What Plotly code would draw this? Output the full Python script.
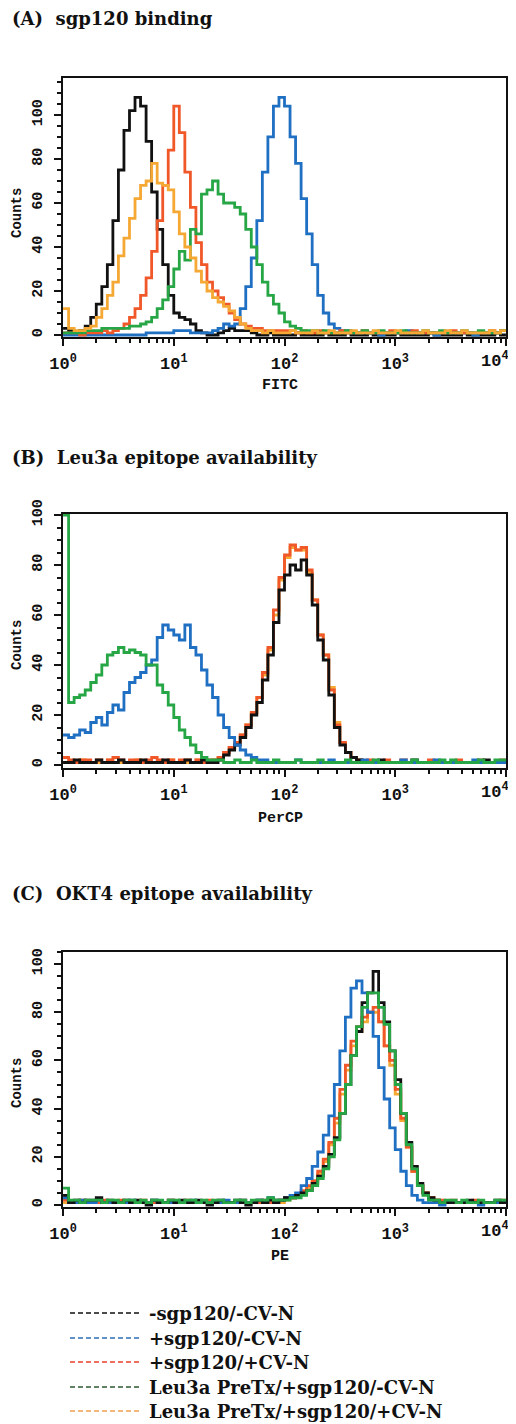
import numpy as np
import plotly.graph_objects as go

PAGE_W, PAGE_H = 516, 1424
OFF = 8  # default body margin of the written page
W, H = PAGE_W - OFF, PAGE_H - OFF
STEP = 0.05  # decade width of each histogram bin

# ---------------- data (counts per bin, bins of 0.05 decade from 10^0 to 10^4) ----------------
series_names = ["-sgp120/-CV-N", "+sgp120/-CV-N", "+sgp120/+CV-N",
                "Leu3a PreTx/+sgp120/-CV-N", "Leu3a PreTx/+sgp120/+CV-N"]
series_colors = ["#111111", "#1f6fc2", "#f0582a", "#27a646", "#f5a833"]
legend_colors = ["#111111", "#2f6db8", "#e8402a", "#2c5a30", "#f0a050"]

# Panel A: sgp120 binding (FITC)
A_black = [3,2,1,2,4,8,14,22,32,52, 75,93,102,108,104,88,65,48,32,18,
           10,8,7,5,2,1,0,0,1,2, 3,2,2,2,1,0,0,1,0,0,
           0,0,1,0,0,0,0,1,0,0, 0,1,0,0,0,1,0,0,0,0,
           1,0,0,0,0,0,1,0,0,0, 0,0,1,0,0,0,0,0,1,0]
A_blue = [0,0,0,0,0,0,0,0,0,0, 0,0,0,0,0,1,1,1,1,1,
          2,2,2,1,1,1,1,2,3,5, 4,5,12,22,35,52,74,90,104,108,
          104,90,78,62,46,32,18,10,5,3, 2,2,1,1,1,1,1,0,1,1,
          1,1,2,1,1,1,1,0,1,1, 1,1,1,1,0,1,1,1,1,2]
A_red = [1,1,1,0,1,1,1,2,1,2, 3,5,8,12,18,26,38,52,68,84,
         104,92,74,58,42,32,24,20,17,14, 10,7,5,4,3,3,2,2,2,2,
         2,2,1,2,1,1,2,1,1,1, 2,1,1,1,2,1,1,1,1,2,
         1,1,1,2,1,1,1,1,1,1, 2,1,1,1,1,1,1,2,1,2]
A_green = [1,1,1,1,2,2,2,3,3,3, 3,3,4,4,5,6,8,12,16,22,
           30,38,34,48,46,64,66,70,64,60, 60,58,55,48,40,32,24,18,14,10,
           6,4,3,2,2,2,1,2,1,1, 1,2,1,1,2,1,1,2,1,1,
           1,2,1,1,1,2,1,1,2,1, 1,1,2,1,1,2,1,1,1,2]
A_orange = [12,3,2,2,3,4,8,12,18,24, 36,44,53,62,68,70,78,69,68,66,
            56,46,40,35,29,24,20,17,15,13, 11,8,5,3,2,2,1,2,1,1,
            1,2,1,1,1,2,1,1,2,1, 1,1,2,1,1,1,2,1,1,1,
            2,1,1,1,1,2,1,1,1,2, 1,1,2,1,1,1,1,2,1,2]

# Panel B: Leu3a epitope availability (PerCP)
B_black = [1,1,2,1,1,1,2,1,1,1, 2,1,1,1,2,1,1,1,2,1,
           1,1,2,1,1,2,1,1,2,4, 6,8,11,15,20,25,34,44,57,70,
           76,80,78,82,76,64,50,42,28,15, 8,5,3,2,1,1,1,2,1,1,
           1,1,1,2,1,1,1,1,1,1, 1,1,1,1,1,1,2,1,1,1]
B_blue = [12,11,12,14,13,17,19,16,21,24, 22,29,33,35,37,40,42,51,56,54,
          52,50,56,47,44,38,32,27,20,15, 11,8,6,4,3,2,2,1,1,1,
          1,1,2,1,1,1,1,1,2,1, 1,1,1,1,2,1,1,1,1,1,
          1,2,1,1,1,1,1,2,1,1, 1,1,1,1,2,1,1,1,1,1]
B_red = [3,2,1,2,2,1,2,1,2,3, 2,1,2,2,1,2,3,2,1,2,
         1,2,2,1,2,1,2,2,3,5, 7,9,12,16,21,27,37,47,62,75,
         84,88,86,87,78,66,52,44,30,16, 9,5,3,2,1,2,1,1,2,1,
         1,2,1,1,1,1,2,1,1,1, 1,2,1,1,1,2,1,1,1,2]
B_green = [100,25,27,28,30,33,36,40,44,45, 47,45,46,45,44,40,40,32,29,24,
           19,14,11,8,5,3,2,2,2,1, 1,2,1,1,2,1,1,1,2,1,
           1,1,2,1,1,1,2,1,1,1, 1,2,1,1,1,1,2,1,1,1,
           1,1,1,2,1,1,1,1,2,1, 2,1,1,1,1,2,1,1,2,2]
B_orange = [1,1,1,2,1,1,1,1,2,1, 1,1,1,2,1,1,1,1,1,2,
            1,1,1,1,2,1,1,2,3,5, 7,9,12,16,21,27,36,46,60,74,
            83,87,86,86,77,66,52,44,31,17, 9,5,3,2,1,1,1,1,1,1,
            1,1,1,1,1,1,1,1,1,1, 1,1,1,1,1,1,1,1,1,1]

# Panel C: OKT4 epitope availability (PE)
C_black = [4,1,2,1,2,2,3,1,2,1, 1,2,1,2,1,0,2,1,1,2,
           1,2,1,1,2,1,0,1,2,1, 1,2,1,0,1,2,1,2,1,2,
           3,3,4,5,6,9,12,16,21,28, 38,50,62,72,84,88,97,84,76,64,
           52,38,26,16,9,5,3,2,1,1, 1,1,1,2,1,1,1,1,2,1]
C_blue = [3,1,1,2,1,1,2,1,1,1, 1,1,2,1,1,1,2,1,1,1,
          1,1,1,2,1,1,1,1,1,2, 1,1,2,1,1,2,1,3,2,2,
          3,4,5,8,11,16,22,29,37,50, 64,78,90,93,88,80,70,57,44,32,
          23,14,8,4,2,1,1,1,0,1, 1,1,1,1,1,0,1,1,1,1]
C_red = [2,1,1,2,1,1,1,2,1,1, 2,1,1,1,2,1,1,1,1,2,
         1,1,2,1,1,1,2,1,1,1, 1,1,2,1,1,1,2,1,2,2,
         3,3,4,6,8,10,14,19,26,36, 48,58,68,74,78,80,82,76,66,60,
         48,36,24,14,8,5,3,2,2,1, 2,1,1,1,2,1,1,1,1,2]
C_green = [7,2,2,1,2,2,2,1,2,2, 1,2,2,1,2,1,2,2,1,2,
           2,1,2,2,1,2,1,2,2,1, 1,2,2,1,2,2,2,3,2,2,
           2,3,3,4,6,8,11,15,20,27, 38,50,62,74,82,88,88,82,75,64,
           50,38,25,15,8,4,2,2,1,2, 2,1,2,1,1,2,1,1,2,2]
C_orange = [1,1,1,1,1,1,1,1,1,1, 1,1,1,1,1,1,1,1,1,1,
            1,1,1,1,1,1,1,1,1,1, 1,1,1,1,1,1,1,1,1,1,
            2,3,4,5,7,10,13,18,25,34, 46,56,66,72,76,80,80,76,66,58,
            46,35,24,14,8,5,3,2,1,1, 1,1,1,1,1,1,1,1,1,1]

panels = [
    dict(title="(A)\u00a0\u00a0sgp120 binding", xlabel="FITC",
         data=[A_black, A_blue, A_red, A_green, A_orange], order=[0, 1, 2, 3, 4],
         px=(78, 337), yrange=[-0.9, 116.8], title_y=18, xlabel_y=386, counts_y=213),
    dict(title="(B)\u00a0\u00a0Leu3a epitope availability", xlabel="PerCP",
         data=[B_black, B_blue, B_red, B_green, B_orange], order=[4, 2, 0, 1, 3],
         px=(514, 768), yrange=[-1.2, 100.4], title_y=457, xlabel_y=818, counts_y=645),
    dict(title="(C)\u00a0\u00a0OKT4 epitope availability", xlabel="PE",
         data=[C_black, C_blue, C_red, C_green, C_orange], order=[4, 2, 1, 0, 3],
         px=(952, 1207), yrange=[-0.83, 105], title_y=893, xlabel_y=1256, counts_y=1083),
]

xdec_vals = [1, 10, 100, 1000, 10000]
xdec_text = ["10<sup>0</sup>", "10<sup>1</sup>", "10<sup>2</sup>", "10<sup>3</sup>", "10<sup>4</sup>"]
x_minor = [k * 10 ** d for d in range(4) for k in range(2, 10)]

PLOT_L, PLOT_R = 63, 506


def fx(p):
    return (p - OFF) / W


def fy(p):
    return 1 - (p - OFF) / H


fig = go.Figure()
annotations = []
shapes = []
mono = dict(family="Liberation Mono", size=15, color="#111", weight="bold")
serif = dict(family="DejaVu Serif", size=18, color="#111", weight="bold")
xtick_font = dict(family="Liberation Mono", size=17, color="#111", weight="bold")

for k, pan in enumerate(panels):
    idx = "" if k == 0 else str(k + 1)
    for s in pan["order"]:
        vals = pan["data"][s]
        n = len(vals)
        xs = list(10 ** (np.arange(n) * STEP)) + [10 ** 4]
        ys = list(vals) + [vals[-1]]
        fig.add_trace(go.Scatter(
            x=xs, y=ys, mode="lines", line=dict(color=series_colors[s], width=2.8, shape="hv"),
            xaxis="x" + idx, yaxis="y" + idx, showlegend=False, name=series_names[s],
            cliponaxis=True))
    top, bot = pan["px"]
    # the last decade label sits at the page edge: draw it as an annotation pulled inward
    shown_text = xdec_text[:-1] + [""]
    xa = dict(type="log", range=[-0.0005, 4.0005], domain=[fx(PLOT_L), fx(PLOT_R)],
              anchor="y" + idx, automargin=False, ticklabeloverflow="allow",
              showline=True, mirror=True, linecolor="#111", linewidth=2, showgrid=False,
              zeroline=False, tickmode="array", tickvals=xdec_vals, ticktext=shown_text,
              ticks="outside", ticklen=7, tickwidth=2, tickcolor="#111",
              ticklabelstandoff=3, tickfont=xtick_font,
              minor=dict(tickmode="array", tickvals=x_minor, ticks="outside", ticklen=4,
                         tickwidth=1.5, tickcolor="#111", showgrid=False))
    ya = dict(range=pan["yrange"], domain=[fy(bot), fy(top)], anchor="x" + idx,
              automargin=False, ticklabeloverflow="allow",
              showline=True, mirror=True, linecolor="#111", linewidth=2, showgrid=False,
              zeroline=False, tickmode="linear", tick0=0, dtick=20, tickangle=-90,
              ticks="outside", ticklen=7, tickwidth=2, tickcolor="#111",
              ticklabelstandoff=6,
              tickfont=dict(family="Liberation Mono", size=15, color="#111", weight="bold"),
              minor=dict(dtick=5, ticks="outside", ticklen=4, tickwidth=1.5,
                         tickcolor="#111", showgrid=False))
    fig.update_layout(**{"xaxis" + idx: xa, "yaxis" + idx: ya})
    annotations.append(dict(text=xdec_text[-1], x=np.log10(xdec_vals[-1]), xref="x" + idx,
                            y=fy(bot + 10), yref="paper", xanchor="center", yanchor="top",
                            xshift=-11, showarrow=False, font=xtick_font))
    annotations.append(dict(text=pan["title"], x=fx(10), y=fy(pan["title_y"]), xref="paper",
                            yref="paper", xanchor="left", yanchor="middle", showarrow=False,
                            font=serif))
    annotations.append(dict(text=pan["xlabel"], x=fx(280), y=fy(pan["xlabel_y"]), xref="paper",
                            yref="paper", xanchor="center", yanchor="middle", showarrow=False,
                            font=mono))
    annotations.append(dict(text="Counts", x=fx(17), y=fy(pan["counts_y"]), xref="paper",
                            yref="paper", xanchor="center", yanchor="middle", showarrow=False,
                            textangle=-90, font=dict(family="Liberation Mono", size=14,
                                                     color="#111", weight="bold")))

# legend drawn below the panels
leg_rows = [1313, 1338, 1362, 1387, 1411]
for name, col, ry in zip(series_names, legend_colors, leg_rows):
    shapes.append(dict(type="line", xref="paper", yref="paper", x0=fx(70), x1=fx(140),
                       y0=fy(ry), y1=fy(ry), line=dict(color=col, width=1.6, dash="5px,3px")))
    annotations.append(dict(text=name, x=fx(147), y=fy(ry), xref="paper", yref="paper",
                            xanchor="left", yanchor="middle", showarrow=False, font=serif))

fig.update_layout(width=W, height=H, margin=dict(l=0, r=0, t=0, b=0, autoexpand=False),
                  paper_bgcolor="white", plot_bgcolor="white",
                  annotations=annotations, shapes=shapes, showlegend=False)
fig.write_html("out.html")
